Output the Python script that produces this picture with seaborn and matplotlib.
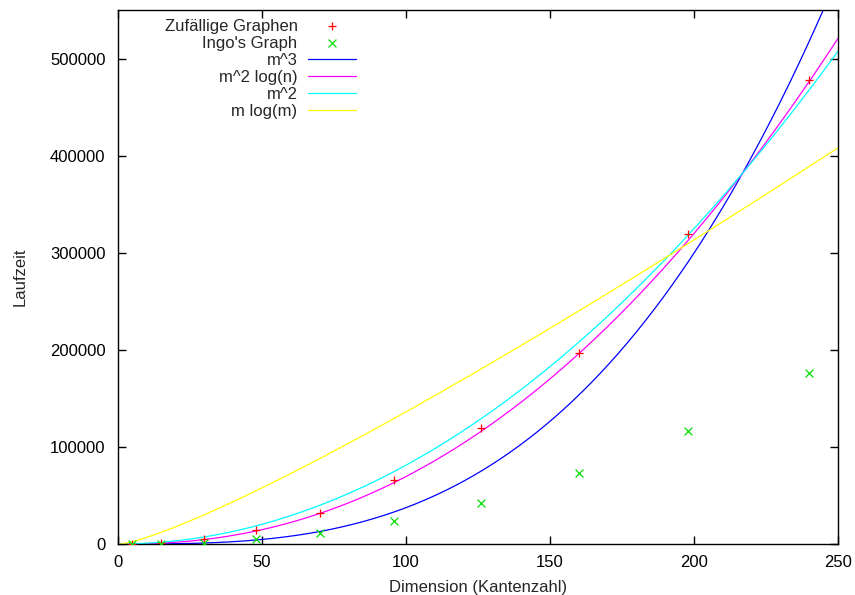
import numpy as np
import pandas as pd
import matplotlib
matplotlib.use("Agg")
import matplotlib.pyplot as plt
import seaborn as sns

# ---- data ----
dims = [5, 15, 30, 48, 70, 96, 126, 160, 198, 240]
zufaellig = [200, 1200, 4800, 14400, 31600, 65700, 119600, 196900, 318900, 478000]
ingo = [100, 400, 1000, 5200, 11700, 24000, 42600, 72900, 116500, 176300]

# fitted coefficients of the comparison curves
coef_m3 = 0.03745      # c * m^3
coef_m2logn = 1.509    # c * m^2 * ln(m)
coef_m2 = 8.12         # c * m^2
coef_mlogm = 295.6     # c * m * ln(m)

x_ticks = [0, 50, 100, 150, 200, 250]
y_ticks = [0, 100000, 200000, 300000, 400000, 500000]

sns.set_theme(style="ticks")
plt.rcParams['font.family'] = ['Liberation Sans', 'DejaVu Sans']
plt.rcParams['font.size'] = 12

fig = plt.figure(figsize=(8.55, 5.95), dpi=100)
ax = fig.add_axes([118/855, 1-544/595, 720/855, 534/595])

pts = pd.DataFrame({"m": dims, "Zufällige Graphen": zufaellig, "Ingo's Graph": ingo})
sns.scatterplot(data=pts, x="m", y="Zufällige Graphen", marker="+", color="#ff0000",
                s=40, linewidth=0.9, ax=ax, label="Zufällige Graphen", zorder=5)
sns.scatterplot(data=pts, x="m", y="Ingo's Graph", marker="x", color="#00e000",
                s=32, linewidth=0.9, ax=ax, label="Ingo's Graph", zorder=5)

m = np.linspace(0.5, 250, 400)
curves = pd.DataFrame({
    "m": m,
    "m^3": coef_m3 * m**3,
    "m^2 log(n)": coef_m2logn * m**2 * np.log(m),
    "m^2": coef_m2 * m**2,
    "m log(m)": coef_mlogm * m * np.log(m),
})
for name, col in [("m^3", "#0000ff"), ("m^2 log(n)", "#ff00ff"),
                  ("m^2", "#00ffff"), ("m log(m)", "#ffff00")]:
    sns.lineplot(data=curves, x="m", y=name, color=col, linewidth=0.9, ax=ax, label=name)

ax.set_xlim(0, 250)
ax.set_ylim(0, 550000)
ax.set_xticks(x_ticks)
ax.set_yticks(y_ticks)
ax.set_xticklabels([str(t) for t in x_ticks])
ax.set_yticklabels([str(t) for t in y_ticks])
ax.tick_params(direction="in", length=6, width=1, top=True, right=True,
               labelsize=12, colors="black")
ax.tick_params(axis="x", pad=8)
ax.tick_params(axis="y", pad=9)
for sp in ax.spines.values():
    sp.set_color("black")
    sp.set_linewidth(1.0)
ax.set_xlabel("Dimension (Kantenzahl)", fontsize=12, labelpad=7)
ax.set_ylabel("Laufzeit", fontsize=12, labelpad=16)
ax.grid(False)
ax.set_facecolor("white")

leg = ax.legend(loc="upper right", bbox_to_anchor=(0.335, 0.99), frameon=False,
                markerfirst=False, handlelength=2.85, handletextpad=0.65,
                labelspacing=0.12, borderaxespad=0, borderpad=0.2, fontsize=12)

fig.savefig("out.png", dpi=100)
